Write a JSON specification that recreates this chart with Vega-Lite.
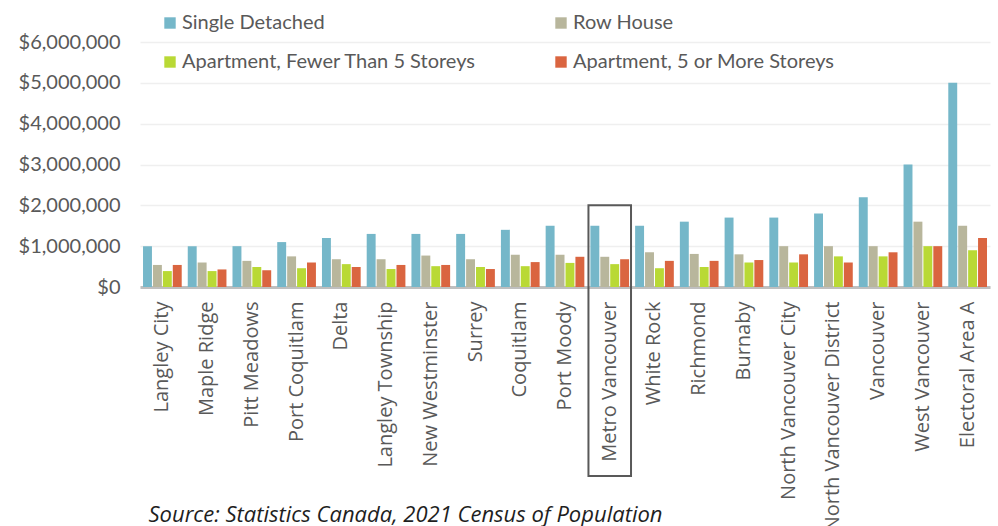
{
  "$schema": "https://vega.github.io/schema/vega-lite/v6.json",
  "width": 850,
  "height": 245,
  "autosize": {"type": "none"},
  "padding": {"left": 140, "top": 42, "right": 8, "bottom": 239},
  "background": "white",
  "config": {
    "view": {"stroke": null},
    "font": "Lato"
  },
  "datasets": {
    "prices": [
      {"region": "Langley City", "type": "Single Detached", "price": 1000000},
      {"region": "Langley City", "type": "Row House", "price": 540000},
      {"region": "Langley City", "type": "Apartment, Fewer Than 5 Storeys", "price": 390000},
      {"region": "Langley City", "type": "Apartment, 5 or More Storeys", "price": 540000},
      {"region": "Maple Ridge", "type": "Single Detached", "price": 1000000},
      {"region": "Maple Ridge", "type": "Row House", "price": 600000},
      {"region": "Maple Ridge", "type": "Apartment, Fewer Than 5 Storeys", "price": 390000},
      {"region": "Maple Ridge", "type": "Apartment, 5 or More Storeys", "price": 430000},
      {"region": "Pitt Meadows", "type": "Single Detached", "price": 1000000},
      {"region": "Pitt Meadows", "type": "Row House", "price": 640000},
      {"region": "Pitt Meadows", "type": "Apartment, Fewer Than 5 Storeys", "price": 490000},
      {"region": "Pitt Meadows", "type": "Apartment, 5 or More Storeys", "price": 410000},
      {"region": "Port Coquitlam", "type": "Single Detached", "price": 1100000},
      {"region": "Port Coquitlam", "type": "Row House", "price": 750000},
      {"region": "Port Coquitlam", "type": "Apartment, Fewer Than 5 Storeys", "price": 460000},
      {"region": "Port Coquitlam", "type": "Apartment, 5 or More Storeys", "price": 600000},
      {"region": "Delta", "type": "Single Detached", "price": 1200000},
      {"region": "Delta", "type": "Row House", "price": 680000},
      {"region": "Delta", "type": "Apartment, Fewer Than 5 Storeys", "price": 560000},
      {"region": "Delta", "type": "Apartment, 5 or More Storeys", "price": 490000},
      {"region": "Langley Township", "type": "Single Detached", "price": 1300000},
      {"region": "Langley Township", "type": "Row House", "price": 680000},
      {"region": "Langley Township", "type": "Apartment, Fewer Than 5 Storeys", "price": 440000},
      {"region": "Langley Township", "type": "Apartment, 5 or More Storeys", "price": 540000},
      {"region": "New Westminster", "type": "Single Detached", "price": 1300000},
      {"region": "New Westminster", "type": "Row House", "price": 770000},
      {"region": "New Westminster", "type": "Apartment, Fewer Than 5 Storeys", "price": 510000},
      {"region": "New Westminster", "type": "Apartment, 5 or More Storeys", "price": 540000},
      {"region": "Surrey", "type": "Single Detached", "price": 1300000},
      {"region": "Surrey", "type": "Row House", "price": 680000},
      {"region": "Surrey", "type": "Apartment, Fewer Than 5 Storeys", "price": 490000},
      {"region": "Surrey", "type": "Apartment, 5 or More Storeys", "price": 440000},
      {"region": "Coquitlam", "type": "Single Detached", "price": 1400000},
      {"region": "Coquitlam", "type": "Row House", "price": 790000},
      {"region": "Coquitlam", "type": "Apartment, Fewer Than 5 Storeys", "price": 510000},
      {"region": "Coquitlam", "type": "Apartment, 5 or More Storeys", "price": 610000},
      {"region": "Port Moody", "type": "Single Detached", "price": 1500000},
      {"region": "Port Moody", "type": "Row House", "price": 790000},
      {"region": "Port Moody", "type": "Apartment, Fewer Than 5 Storeys", "price": 590000},
      {"region": "Port Moody", "type": "Apartment, 5 or More Storeys", "price": 740000},
      {"region": "Metro Vancouver", "type": "Single Detached", "price": 1500000},
      {"region": "Metro Vancouver", "type": "Row House", "price": 740000},
      {"region": "Metro Vancouver", "type": "Apartment, Fewer Than 5 Storeys", "price": 560000},
      {"region": "Metro Vancouver", "type": "Apartment, 5 or More Storeys", "price": 680000},
      {"region": "White Rock", "type": "Single Detached", "price": 1500000},
      {"region": "White Rock", "type": "Row House", "price": 850000},
      {"region": "White Rock", "type": "Apartment, Fewer Than 5 Storeys", "price": 460000},
      {"region": "White Rock", "type": "Apartment, 5 or More Storeys", "price": 640000},
      {"region": "Richmond", "type": "Single Detached", "price": 1600000},
      {"region": "Richmond", "type": "Row House", "price": 810000},
      {"region": "Richmond", "type": "Apartment, Fewer Than 5 Storeys", "price": 490000},
      {"region": "Richmond", "type": "Apartment, 5 or More Storeys", "price": 640000},
      {"region": "Burnaby", "type": "Single Detached", "price": 1700000},
      {"region": "Burnaby", "type": "Row House", "price": 800000},
      {"region": "Burnaby", "type": "Apartment, Fewer Than 5 Storeys", "price": 600000},
      {"region": "Burnaby", "type": "Apartment, 5 or More Storeys", "price": 660000},
      {"region": "North Vancouver City", "type": "Single Detached", "price": 1700000},
      {"region": "North Vancouver City", "type": "Row House", "price": 1000000},
      {"region": "North Vancouver City", "type": "Apartment, Fewer Than 5 Storeys", "price": 600000},
      {"region": "North Vancouver City", "type": "Apartment, 5 or More Storeys", "price": 800000},
      {"region": "North Vancouver District", "type": "Single Detached", "price": 1800000},
      {"region": "North Vancouver District", "type": "Row House", "price": 1000000},
      {"region": "North Vancouver District", "type": "Apartment, Fewer Than 5 Storeys", "price": 750000},
      {"region": "North Vancouver District", "type": "Apartment, 5 or More Storeys", "price": 600000},
      {"region": "Vancouver", "type": "Single Detached", "price": 2200000},
      {"region": "Vancouver", "type": "Row House", "price": 1000000},
      {"region": "Vancouver", "type": "Apartment, Fewer Than 5 Storeys", "price": 750000},
      {"region": "Vancouver", "type": "Apartment, 5 or More Storeys", "price": 850000},
      {"region": "West Vancouver", "type": "Single Detached", "price": 3000000},
      {"region": "West Vancouver", "type": "Row House", "price": 1600000},
      {"region": "West Vancouver", "type": "Apartment, Fewer Than 5 Storeys", "price": 1000000},
      {"region": "West Vancouver", "type": "Apartment, 5 or More Storeys", "price": 1000000},
      {"region": "Electoral Area A", "type": "Single Detached", "price": 5000000},
      {"region": "Electoral Area A", "type": "Row House", "price": 1500000},
      {"region": "Electoral Area A", "type": "Apartment, Fewer Than 5 Storeys", "price": 900000},
      {"region": "Electoral Area A", "type": "Apartment, 5 or More Storeys", "price": 1200000}
    ],
    "highlight": [
      {"region": "Metro Vancouver", "top": 2000000, "bottom": -4630000}
    ]
  },
  "layer": [
    {
      "data": {"name": "prices"},
      "mark": {"type": "bar"},
      "encoding": {
        "x": {
          "field": "region",
          "type": "nominal",
          "sort": null,
          "scale": {"paddingInner": 0.135, "paddingOuter": 0.0675},
          "axis": {
            "title": "Source: Statistics Canada, 2021 Census of Population",
            "titleX": 8,
            "titleY": 234,
            "titleAlign": "left",
            "titleBaseline": "alphabetic",
            "titleFont": "Open Sans",
            "titleFontSize": 22,
            "titleFontStyle": "italic",
            "titleFontWeight": "normal",
            "titleColor": "#1f1f1f",
            "labelAngle": -90,
            "labelAlign": "right",
            "labelBaseline": "middle",
            "labelPadding": 14,
            "labelFont": "Open Sans",
            "labelFontSize": 20,
            "labelColor": "#595959",
            "labelOverlap": false,
            "labelLimit": 400,
            "ticks": false,
            "domain": true,
            "domainColor": "#bfbfbf",
            "domainWidth": 3,
            "grid": false
          }
        },
        "xOffset": {
          "field": "type",
          "type": "nominal",
          "sort": ["Single Detached", "Row House", "Apartment, Fewer Than 5 Storeys", "Apartment, 5 or More Storeys"],
          "scale": {"paddingInner": 0.1}
        },
        "y": {
          "field": "price",
          "type": "quantitative",
          "scale": {"domain": [0, 6000000], "nice": false},
          "axis": {
            "title": null,
            "values": [0, 1000000, 2000000, 3000000, 4000000, 5000000, 6000000],
            "format": "$,.0f",
            "labelFont": "Lato",
            "labelFontSize": 20,
            "labelColor": "#595959",
            "labelPadding": 20,
            "ticks": false,
            "domain": false,
            "grid": true,
            "gridColor": "#efefef",
            "gridWidth": 1.5
          }
        },
        "color": {
          "field": "type",
          "type": "nominal",
          "sort": ["Single Detached", "Row House", "Apartment, Fewer Than 5 Storeys", "Apartment, 5 or More Storeys"],
          "scale": {
            "domain": ["Single Detached", "Row House", "Apartment, Fewer Than 5 Storeys", "Apartment, 5 or More Storeys"],
            "range": ["#75b7c9", "#b8b69c", "#b9d935", "#da6540"]
          },
          "legend": {
            "title": null,
            "orient": "none",
            "legendX": 20,
            "legendY": -29,
            "direction": "horizontal",
            "columns": 2,
            "columnPadding": 75,
            "rowPadding": 19,
            "padding": 0,
            "symbolType": "square",
            "symbolSize": 130,
            "symbolStrokeWidth": 0,
            "symbolOffset": 0,
            "labelOffset": 2,
            "labelFont": "Lato",
            "labelFontSize": 20,
            "labelColor": "#595959",
            "labelLimit": 400
          }
        }
      }
    },
    {
      "data": {"name": "highlight"},
      "mark": {"type": "bar", "filled": false, "stroke": "#595959", "strokeWidth": 2, "width": {"band": 1.1}, "clip": false},
      "encoding": {
        "x": {"field": "region", "type": "nominal", "sort": null},
        "y": {"field": "top", "type": "quantitative"},
        "y2": {"field": "bottom"}
      }
    }
  ]
}
